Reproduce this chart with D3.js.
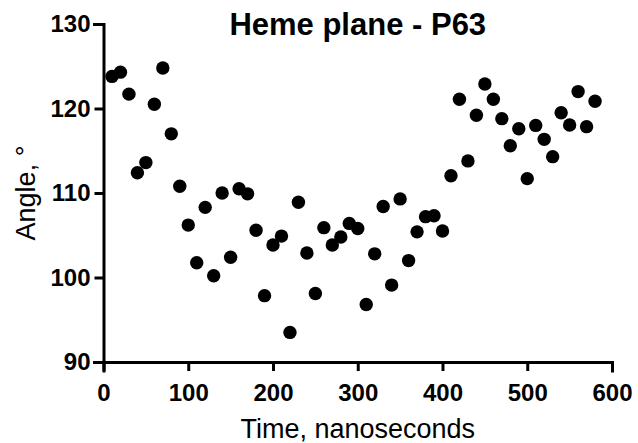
<!DOCTYPE html>
<html>
<head>
<meta charset="utf-8">
<script src="https://cdn.jsdelivr.net/npm/d3@7"></script>
<style>
  body { margin: 0; background: #fff; }
  svg { display: block; font-family: "Liberation Sans", Arial, sans-serif; }
  .axis path, .axis line { stroke: #000; stroke-width: 3; }
  .axis text { font-size: 24px; font-weight: bold; fill: #000; }
</style>
</head>
<body>
<svg width="638" height="443"></svg>
<script>
// time in ns
const times = [10, 20, 30, 40, 50, 60, 70, 80, 90, 100,
  110, 120, 130, 140, 150, 160, 170, 180, 190, 200,
  210, 220, 230, 240, 250, 260, 270, 280, 290, 300,
  310, 320, 330, 340, 350, 360, 370, 380, 390, 400,
  410, 420, 430, 440, 450, 460, 470, 480, 490, 500,
  510, 520, 530, 540, 550, 560, 570, 580];

// angle in degrees
const angles = [123.8, 124.3, 121.7, 112.4, 113.6, 120.5, 124.8, 117.0, 110.8, 106.2,
  101.75, 108.3, 100.2, 110.0, 102.4, 110.5, 109.9, 105.6, 97.85, 103.85,
  104.9, 93.5, 108.9, 102.9, 98.1, 105.9, 103.85, 104.8, 106.4, 105.8,
  96.8, 102.8, 108.4, 99.1, 109.3, 102.0, 105.4, 107.2, 107.3, 105.5,
  112.05, 121.1, 113.8, 119.2, 122.9, 121.1, 118.8, 115.6, 117.6, 111.7,
  118.0, 116.35, 114.3, 119.5, 118.05, 122.0, 117.85, 120.85];

const xTicks = [0, 100, 200, 300, 400, 500, 600];
const yTicks = [90, 100, 110, 120, 130];

const margin = { top: 24, right: 26, bottom: 81, left: 103.5 },
  width = 638 - margin.left - margin.right,
  height = 443 - margin.top - margin.bottom;

const svg = d3.select("svg");
const g = svg.append("g")
  .attr("transform", `translate(${margin.left},${margin.top})`);

const x = d3.scaleLinear().domain([0, 600]).range([0, width]);
const y = d3.scaleLinear().domain([90, 130]).range([height, 0]);

// axes
g.append("g")
  .attr("class", "axis")
  .attr("transform", `translate(0,${height})`)
  .call(d3.axisBottom(x).tickValues(xTicks).tickSize(9).tickSizeOuter(9).tickPadding(13));

g.append("g")
  .attr("class", "axis")
  .call(d3.axisLeft(y).tickValues(yTicks).tickSize(9).tickSizeOuter(9).tickPadding(4));

// outer ticks would double up; remove the path end caps
g.selectAll(".axis .domain").attr("stroke-linecap", "square");

// points
g.selectAll(".dot")
  .data(times.map((t, i) => ({ t, a: angles[i] })))
  .enter().append("circle")
  .attr("class", "dot")
  .attr("cx", d => x(d.t))
  .attr("cy", d => y(d.a))
  .attr("r", 6.7)
  .attr("fill", "#000");

// title
svg.append("text")
  .attr("x", margin.left + width / 2)
  .attr("y", 35)
  .attr("text-anchor", "middle")
  .style("font-size", "31px")
  .style("font-weight", "bold")
  .text("Heme plane - P63");

// x label
svg.append("text")
  .attr("x", margin.left + width / 2)
  .attr("y", 438)
  .attr("text-anchor", "middle")
  .style("font-size", "27px")
  .text("Time, nanoseconds");

// y label
svg.append("text")
  .attr("transform", `translate(35,${margin.top + height / 2}) rotate(-90)`)
  .attr("text-anchor", "middle")
  .style("font-size", "27px")
  .text("Angle, °");
</script>
</body>
</html>
